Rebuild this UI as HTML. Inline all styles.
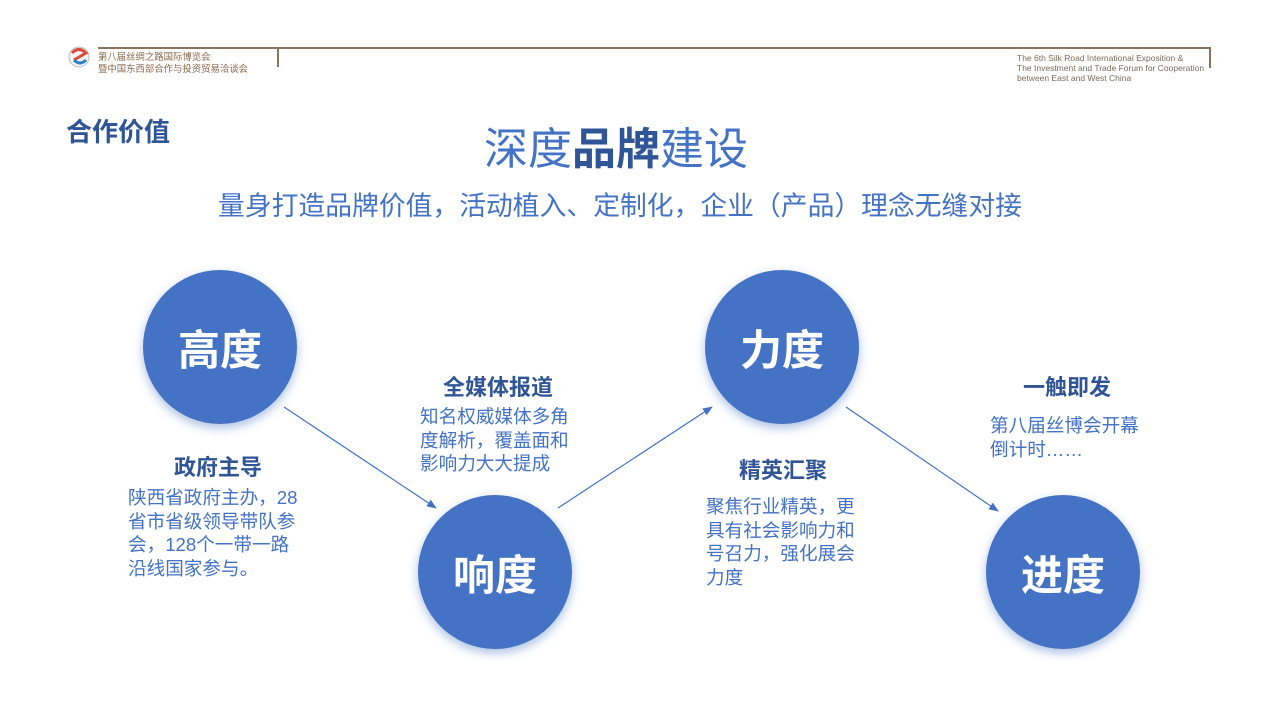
<!DOCTYPE html>
<html><head><meta charset="utf-8"><style>
body{margin:0;width:1280px;height:720px;background:#fff;position:relative;overflow:hidden;font-family:"Liberation Sans","Noto Sans CJK SC",sans-serif}
.a{position:absolute;white-space:nowrap}
.c{position:absolute;width:154px;height:154px;border-radius:50%;background:#4472c4;box-shadow:0 4px 10px rgba(68,114,196,.45);color:#fff;font-size:42px;font-weight:bold;display:flex;align-items:center;justify-content:center}
.h{position:absolute;color:#2f5597;font-size:22px;font-weight:bold;text-align:center;width:200px;line-height:26px}
.b{position:absolute;color:#4472c4;font-size:18.6px;line-height:23.5px;white-space:nowrap}
</style></head><body>
<svg class="a" style="left:0;top:0" width="1280" height="720">
<line x1="98" y1="48" x2="1211" y2="48" stroke="#8b735c" stroke-width="2"/>
<line x1="278" y1="48" x2="278" y2="67" stroke="#8b735c" stroke-width="2"/>
<line x1="1210" y1="48" x2="1210" y2="68" stroke="#8b735c" stroke-width="2"/>
<circle cx="79" cy="57" r="10" fill="#f3f3f3" stroke="#bbb"/>
<path d="M72 53 Q79 46 86 53 Q79 57 74 60" fill="none" stroke="#d94a3a" stroke-width="3"/>
<path d="M74 60 Q80 66 86 60" fill="none" stroke="#2f7ec8" stroke-width="3"/>
<defs><marker id="m" markerWidth="10" markerHeight="8" refX="9" refY="4" orient="auto" markerUnits="userSpaceOnUse"><path d="M0 0L10 4L0 8z" fill="#4472c4"/></marker></defs>
<g stroke="#4472c4" stroke-width="1.2" marker-end="url(#m)">
<line x1="284" y1="407" x2="436" y2="508"/>
<line x1="558" y1="508" x2="712" y2="407"/>
<line x1="846" y1="407" x2="998" y2="511"/>
</g>
</svg>
<div class="a" style="left:98px;top:51px;font-size:9.4px;line-height:12px;color:#8b6a4c">第八届丝绸之路国际博览会<br>暨中国东西部合作与投资贸易洽谈会</div>
<div class="a" style="left:1017px;top:53px;font-size:8.5px;line-height:10px;color:#7a6a5a">The 6th Silk Road International Exposition &amp;<br>The Investment and Trade Forum for Cooperation<br>between East and West China</div>
<div class="a" style="left:66px;top:112px;font-size:26px;font-weight:bold;color:#2f5597">合作价值</div>
<div class="a" style="left:0;width:1232px;text-align:center;top:113px;font-size:44px;color:#4472c4">深度<b style="color:#2f5597">品牌</b>建设</div>
<div class="a" style="left:0;width:1240px;text-align:center;top:184px;font-size:26.8px;color:#4472c4">量身打造品牌价值，活动植入、定制化，企业（产品）理念无缝对接</div>
<div class="c" style="left:143px;top:270px">高度</div>
<div class="c" style="left:418px;top:495px">响度</div>
<div class="c" style="left:705px;top:270px">力度</div>
<div class="c" style="left:986px;top:495px">进度</div>
<div class="h" style="left:118px;top:455px">政府主导</div>
<div class="b" style="left:128px;top:486px">陕西省政府主办，28<br>省市省级领导带队参<br>会，128个一带一路<br>沿线国家参与。</div>
<div class="h" style="left:398px;top:375px">全媒体报道</div>
<div class="b" style="left:420px;top:405px">知名权威媒体多角<br>度解析，覆盖面和<br>影响力大大提成</div>
<div class="h" style="left:683px;top:458px">精英汇聚</div>
<div class="b" style="left:706px;top:495px">聚焦行业精英，更<br>具有社会影响力和<br>号召力，强化展会<br>力度</div>
<div class="h" style="left:967px;top:375px">一触即发</div>
<div class="b" style="left:990px;top:414px">第八届丝博会开幕<br>倒计时……</div>
</body></html>
